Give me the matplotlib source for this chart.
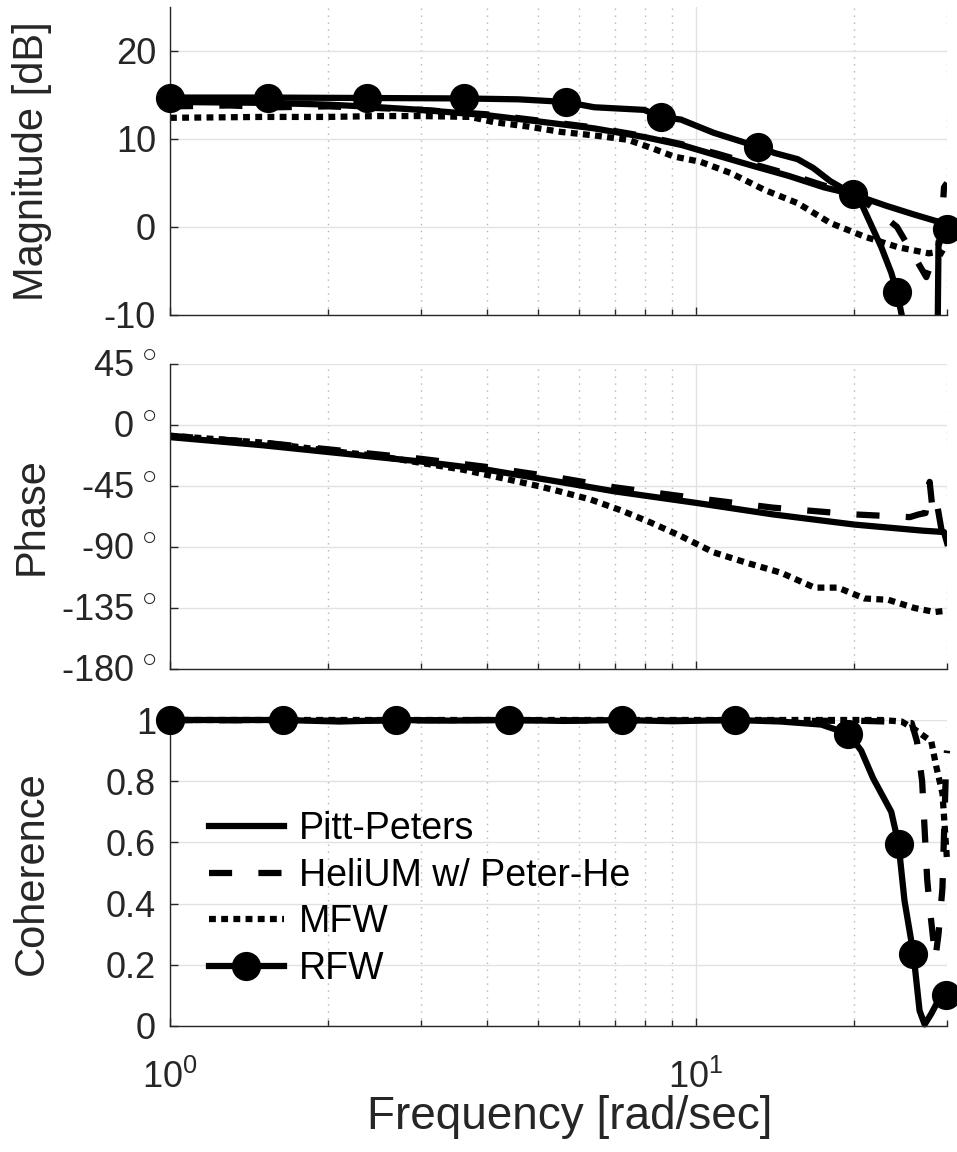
import matplotlib
matplotlib.use('Agg')
import matplotlib.pyplot as plt
from matplotlib.lines import Line2D
import numpy as np

plt.rcParams['font.family'] = ['Liberation Sans', 'DejaVu Sans']
plt.rcParams['mathtext.fontset'] = 'custom'
plt.rcParams['mathtext.rm'] = 'Liberation Sans'
plt.rcParams['mathtext.it'] = 'Liberation Sans:italic'
plt.rcParams['mathtext.bf'] = 'Liberation Sans:bold'
plt.rcParams['axes.unicode_minus'] = False

# ---------------- data ----------------
series_names = ['Pitt-Peters', 'HeliUM w/ Peter-He', 'MFW', 'RFW']

# Magnitude [dB]
pp_mag_f = [1.0, 1.5, 2.0, 2.5, 3.0, 4.0, 5.0, 6.4, 8.0, 9.4, 11.0, 12.9, 15.0, 17.5, 19.9, 23.0, 26.0, 30.0]
pp_mag = [14.2, 14.1, 13.9, 13.6, 13.3, 12.7, 12.0, 11.2, 10.2, 9.3, 8.1, 6.9, 5.8, 4.5, 3.7, 2.4, 1.4, 0.3]

he_mag_f = [1.0, 1.3, 1.6, 2.0, 2.5, 3.0, 4.0, 5.0, 6.4, 8.0, 9.4, 11.0, 12.9, 15.0, 17.5, 19.9, 22.0, 24.1, 26.2, 27.4, 28.4, 29.2, 29.6, 30.0]
he_mag = [13.7, 13.8, 13.6, 13.7, 13.5, 13.3, 12.8, 12.1, 11.3, 10.3, 9.4, 8.3, 7.1, 6.0, 4.7, 3.8, 1.9, 0.0, -3.7, -5.7, -3.0, -1.5, 4.5, 5.0]

mfw_mag_f = [1.0, 1.5, 2.0, 2.5, 3.0, 3.73, 4.13, 4.8, 5.53, 6.4, 7.42, 8.2, 9.08, 10.2, 11.66, 13.5, 15.6, 18.0, 20.9, 24.2, 27.7, 29.0, 30.0]
mfw_mag = [12.4, 12.5, 12.5, 12.6, 12.6, 12.5, 11.9, 11.4, 10.8, 10.4, 9.9, 9.0, 8.0, 7.4, 6.1, 4.2, 2.7, 0.45, -1.1, -2.3, -3.0, -2.8, -3.3]

rfw_mag_f = [1.0, 1.537, 2.373, 3.615, 4.6, 5.65, 6.4, 7.97, 8.58, 9.36, 10.8, 13.13, 14.1, 15.6, 16.7, 18.0, 19.9, 20.6, 22.5, 23.5, 24.1, 24.6, 26.5, 28.6, 28.9, 30.0]
rfw_mag = [14.7, 14.7, 14.65, 14.6, 14.5, 14.2, 13.6, 13.3, 12.5, 12.2, 10.7, 9.1, 8.4, 7.7, 6.7, 5.2, 3.7, 2.7, -2.3, -5.2, -7.4, -10.0, -20.0, -30.0, -1.7, -0.2]
rfw_mag_markers = [0, 1, 2, 3, 5, 8, 11, 16, 20, 25]

# Phase [deg]
pp_ph_f = [1.0, 1.5, 2.0, 3.0, 4.0, 5.5, 7.0, 10.0, 14.0, 20.0, 27.0, 29.6, 30.0]
pp_ph = [-9, -15, -20, -27, -33, -42, -49, -57.5, -66, -73.5, -78, -79, -87]

he_ph_f = [1.0, 1.5, 2.0, 3.0, 4.0, 5.5, 7.0, 10.0, 14.0, 20.0, 25.5, 26.5, 27.3, 27.8, 28.2, 28.7, 29.3, 29.7, 30.0]
he_ph = [-8, -13, -18, -25, -31, -39, -46, -54, -61, -66, -68, -66, -65, -42, -65, -58, -78, -82, -88]

mfw_ph_f = [1.0, 1.5, 2.0, 2.5, 3.0, 3.6, 4.25, 5.0, 5.5, 6.3, 7.2, 8.2, 9.36, 10.8, 12.56, 14.5, 16.8, 18.6, 20.9, 23.2, 26.0, 28.4, 30.0]
mfw_ph = [-8, -13, -19, -23, -28, -33, -39, -45, -49, -55, -63, -72, -82, -94, -102, -109, -120, -120, -128, -129, -135, -138, -137]

# Coherence
he_coh_f = [1.0, 2.0, 4.0, 8.0, 12.0, 16.0, 20.0, 23.0, 25.7, 26.3, 26.9, 27.2, 27.5, 27.8, 28.5, 28.9, 29.4, 29.9, 30.0]
he_coh = [1.0, 0.998, 1.0, 0.998, 1.0, 0.997, 0.998, 0.995, 0.99, 0.93, 0.80, 0.64, 0.48, 0.39, 0.22, 0.30, 0.45, 0.88, 0.90]

mfw_coh_f = [1.0, 2.0, 4.0, 8.0, 12.0, 16.0, 20.0, 22.5, 24.6, 26.0, 28.0, 28.6, 29.4, 29.7, 30.0]
mfw_coh = [1.0, 1.0, 1.0, 1.0, 1.0, 1.0, 1.0, 1.0, 0.995, 0.97, 0.93, 0.85, 0.76, 0.65, 0.54]

rfw_coh_f = [1.0, 1.3, 1.641, 2.1, 2.695, 3.4, 4.405, 5.6, 7.23, 9.0, 11.87, 14.5, 17.3, 19.48, 20.6, 21.7, 23.5, 24.26, 24.9, 25.9, 26.6, 27.2, 28.0, 28.9, 29.9]
rfw_coh = [1.0, 1.0, 1.0, 0.995, 1.0, 0.998, 1.0, 0.997, 1.0, 0.996, 1.0, 0.995, 0.985, 0.955, 0.9, 0.81, 0.70, 0.595, 0.41, 0.235, 0.05, 0.005, 0.04, 0.085, 0.10]
rfw_coh_markers = [0, 2, 4, 6, 8, 10, 13, 17, 19, 24]

mag_ticks = [-10, 0, 10, 20]
mag_ticklabels = ['-10', '0', '10', '20']
ph_ticks = [-180, -135, -90, -45, 0, 45]
ph_ticklabels = ['-180$^{\\,\\bigcirc}$', '-135$^{\\,\\bigcirc}$', '-90$^{\\,\\bigcirc}$',
                 '-45$^{\\,\\bigcirc}$', '0$^{\\,\\bigcirc}$', '45$^{\\,\\bigcirc}$']
coh_ticks = [0, 0.2, 0.4, 0.6, 0.8, 1.0]
coh_ticklabels = ['0', '0.2', '0.4', '0.6', '0.8', '1']

# ---------------- styles ----------------
LW = 4.5
MS = 20
TXT = '#262626'
DOT = (0, (1.1, 0.85))
DASH = (0, (3.7, 4.2))
TICKFS = 26
LABFS = 30

fig = plt.figure(figsize=(9.57, 11.52), dpi=100)
ax1 = fig.add_axes([0.1776, 0.7266, 0.812, 0.2674])
ax2 = fig.add_axes([0.1776, 0.4193, 0.812, 0.2648])
ax3 = fig.add_axes([0.1776, 0.1094, 0.812, 0.2656])

for ax in (ax1, ax2, ax3):
    ax.set_xscale('log')
    ax.set_xlim(1, 30)
    ax.set_xticks([1, 10])
    ax.set_xticks([2, 3, 4, 5, 6, 7, 8, 9, 20, 30], minor=True)
    ax.grid(True, which='major', axis='both', color='#e2e2e2', lw=1.0, ls='-')
    ax.grid(True, which='minor', axis='x', color='#b5b5b5', lw=1.0, ls=(0, (1, 4)))
    ax.set_axisbelow(True)
    for s in ('top', 'right'):
        ax.spines[s].set_visible(False)
    for s in ('left', 'bottom'):
        ax.spines[s].set_color(TXT)
        ax.spines[s].set_linewidth(1.0)
    ax.tick_params(which='both', direction='in', colors=TXT, labelsize=TICKFS,
                   top=False, right=False)
    ax.tick_params(which='major', length=6, width=1)
    ax.tick_params(which='minor', length=4, width=1)
    ax.tick_params(axis='y', pad=10)
    ax.tick_params(axis='x', pad=24)
    ax.set_facecolor('white')

# Magnitude
ax1.plot(pp_mag_f, pp_mag, color='k', lw=LW, ls='-')
ax1.plot(he_mag_f, he_mag, color='k', lw=LW, ls=DASH)
ax1.plot(mfw_mag_f, mfw_mag, color='k', lw=LW, ls=DOT)
ax1.plot(rfw_mag_f, rfw_mag, color='k', lw=LW, ls='-')
ax1.plot([rfw_mag_f[i] for i in rfw_mag_markers], [rfw_mag[i] for i in rfw_mag_markers],
         ls='none', marker='o', ms=MS, color='k', clip_on=False, zorder=5)
ax1.set_ylim(-10, 25)
ax1.set_yticks(mag_ticks)
ax1.set_yticklabels(mag_ticklabels)
ax1.tick_params(axis='x', labelbottom=False)
ax1.set_ylabel('Magnitude [dB]', fontsize=LABFS, color=TXT)

# Phase
ax2.plot(pp_ph_f, pp_ph, color='k', lw=LW, ls='-')
ax2.plot(he_ph_f, he_ph, color='k', lw=LW, ls=DASH)
ax2.plot(mfw_ph_f, mfw_ph, color='k', lw=LW, ls=DOT)
ax2.set_ylim(-180, 45)
ax2.set_yticks(ph_ticks)
ax2.set_yticklabels(ph_ticklabels)
ax2.tick_params(axis='x', labelbottom=False)
ax2.set_ylabel('Phase', fontsize=LABFS, color=TXT)

# Coherence
ax3.plot(he_coh_f, he_coh, color='k', lw=LW, ls=DASH, clip_on=False)
ax3.plot(mfw_coh_f, mfw_coh, color='k', lw=LW, ls=DOT, clip_on=False)
ax3.plot(rfw_coh_f, rfw_coh, color='k', lw=LW, ls='-', clip_on=False)
ax3.plot([rfw_coh_f[i] for i in rfw_coh_markers], [rfw_coh[i] for i in rfw_coh_markers],
         ls='none', marker='o', ms=MS, color='k', clip_on=False, zorder=5)
ax3.set_ylim(0, 1)
ax3.set_yticks(coh_ticks)
ax3.set_yticklabels(coh_ticklabels)
ax3.set_ylabel('Coherence', fontsize=LABFS, color=TXT)
ax3.set_xlabel('Frequency [rad/sec]', fontsize=33, color=TXT, labelpad=6)
ax3.xaxis.set_label_coords(0.515, -0.225)

for ax in (ax1, ax2, ax3):
    ax.yaxis.set_label_coords(-0.152, 0.5)

handles = [
    Line2D([], [], color='k', lw=LW, ls='-'),
    Line2D([], [], color='k', lw=LW, ls=DASH),
    Line2D([], [], color='k', lw=LW, ls=DOT),
    Line2D([], [], color='k', lw=LW, ls='-', marker='o', ms=MS),
]
leg = ax3.legend(handles, series_names, loc='center left', bbox_to_anchor=(0.05, 0.415),
                 frameon=False, fontsize=27, handlelength=2.0, handletextpad=0.4,
                 labelspacing=0.28, borderaxespad=0, borderpad=0)

fig.savefig('out.png', dpi=100, facecolor='white')
